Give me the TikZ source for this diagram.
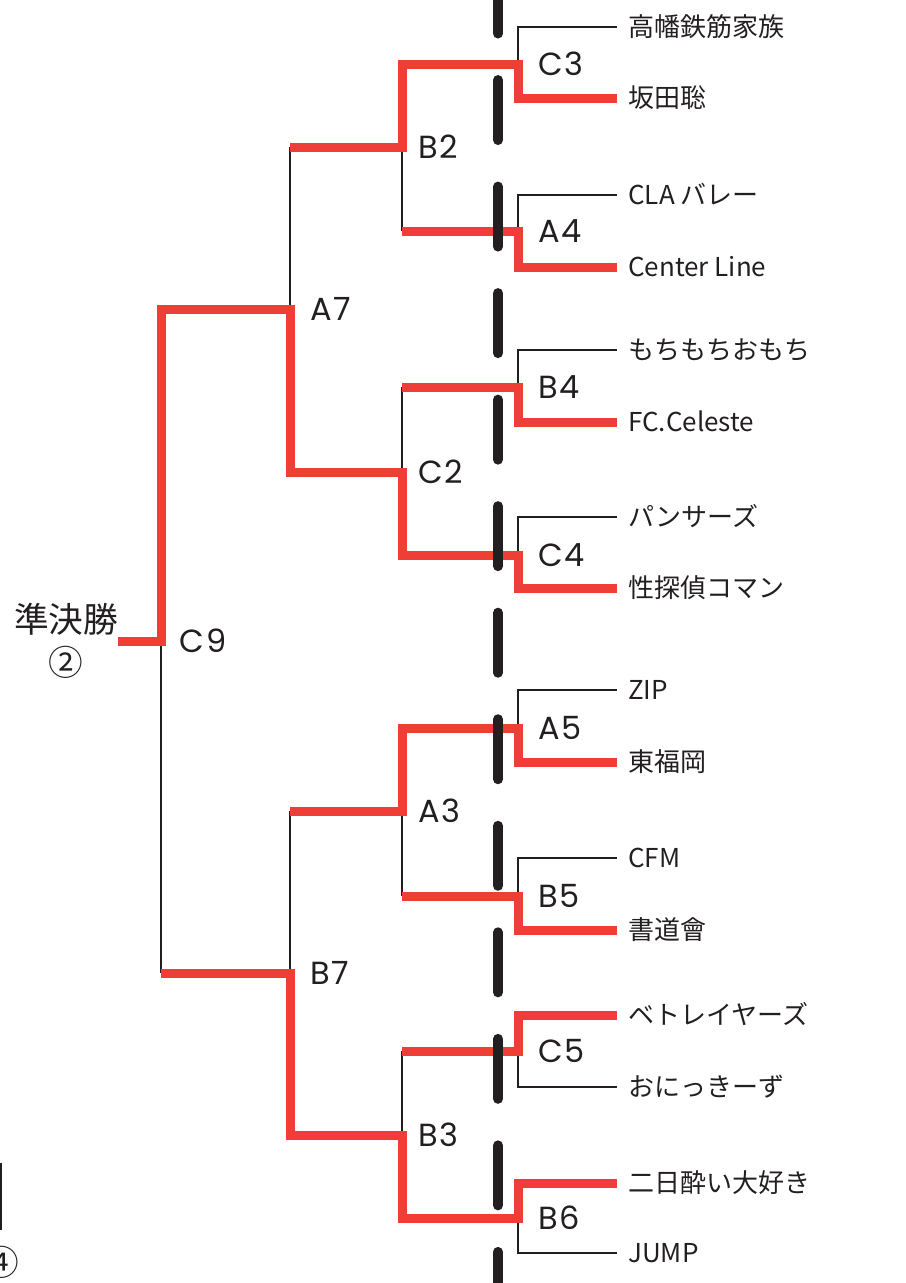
\documentclass[tikz,border=0pt]{standalone}
\usepackage{fontspec}
\setmainfont{Noto Sans CJK JP}
\newfontfamily\matchfam{Poppins}[LetterSpace=5.0]
\usetikzlibrary{positioning}

\definecolor{winred}{HTML}{EF3E36}
\definecolor{inkblack}{HTML}{231F20}

\newcommand\teamfont{\fontsize{19.5pt}{23pt}\selectfont}
\newcommand\semifont{\fontsize{26pt}{32pt}\selectfont}
\newcommand\matchfont{\matchfam\fontsize{24pt}{28pt}\selectfont}

\begin{document}
\begin{tikzpicture}[x=0.75pt, y=-0.75pt,
    win/.style={draw=winred, line width=6.75pt},
    lose/.style={draw=inkblack, line width=1.5pt},
    dashline/.style={draw=inkblack, line width=7.5pt, line cap=round, dash pattern=on 45pt off 34.9pt},
    team/.style={anchor=west, inner xsep=8.25pt, inner ysep=0pt, text height=14.8pt, text depth=0pt, font=\teamfont, text=inkblack},
    mlabel/.style={inner sep=0pt, font=\matchfont, text=inkblack}]

    \useasboundingbox (0,0) rectangle (906,1283);

    % 队伍
    \node[team] (t1) at (617,27) {高幡鉄筋家族};
    \node[team] (t2) at (617,98) {坂田聡};
    \node[team] (t3) at (617,195) {CLA バレー};
    \node[team] (t4) at (617,267) {Center Line};
    \node[team] (t5) at (617,350) {もちもちおもち};
    \node[team] (t6) at (617,422) {FC.Celeste};
    \node[team] (t7) at (617,517) {パンサーズ};
    \node[team] (t8) at (617,588) {性探偵コマン};
    \node[team] (t9) at (617,690) {ZIP};
    \node[team] (t10) at (617,762) {東福岡};
    \node[team] (t11) at (617,858) {CFM};
    \node[team] (t12) at (617,930) {書道會};
    \node[team] (t13) at (617,1015) {ベトレイヤーズ};
    \node[team] (t14) at (617,1087) {おにっきーず};
    \node[team] (t15) at (617,1183) {二日酔い大好き};
    \node[team] (t16) at (617,1253) {JUMP};

    % 比赛结点
    \coordinate (mC3) at (518,64);
    \coordinate (mA4) at (518,231);
    \coordinate (mB4) at (518,387);
    \coordinate (mC4) at (518,555);
    \coordinate (mA5) at (518,728);
    \coordinate (mB5) at (518,896);
    \coordinate (mC5) at (518,1051);
    \coordinate (mB6) at (518,1218);
    \coordinate (mB2) at (402,147);
    \coordinate (mC2) at (402,472);
    \coordinate (mA3) at (402,811);
    \coordinate (mB3) at (402,1135);
    \coordinate (mA7) at (290,309);
    \coordinate (mB7) at (290,973);
    \coordinate (mC9) at (161,641);

    % 比赛编号
    \node[mlabel, right=15pt of mC3] {C3};
    \node[mlabel, right=15pt of mA4] {A4};
    \node[mlabel, right=15pt of mB4] {B4};
    \node[mlabel, right=15pt of mC4] {C4};
    \node[mlabel, right=15pt of mA5] {A5};
    \node[mlabel, right=15pt of mB5] {B5};
    \node[mlabel, right=15pt of mC5] {C5};
    \node[mlabel, right=15pt of mB6] {B6};
    \node[mlabel, right=12pt of mB2] {B2};
    \node[mlabel, right=12pt of mC2] {C2};
    \node[mlabel, right=12pt of mA3] {A3};
    \node[mlabel, right=12pt of mB3] {B3};
    \node[mlabel, right=15pt of mA7] {A7};
    \node[mlabel, right=15pt of mB7] {B7};
    \node[mlabel, right=14pt of mC9] {C9};

    % 准决胜
    \node[inner sep=0pt, align=center, font=\semifont, text=inkblack] (semi) at (66,641) {準決勝\\②};

    % 败者 (黑线)
    \draw[lose] (t1.west) -| (mC3);
    \draw[lose] (t3.west) -| (mA4);
    \draw[lose] (t5.west) -| (mB4);
    \draw[lose] (t7.west) -| (mC4);
    \draw[lose] (t9.west) -| (mA5);
    \draw[lose] (t11.west) -| (mB5);
    \draw[lose] (t14.west) -| (mC5);
    \draw[lose] (t16.west) -| (mB6);
    \draw[lose] (mB2) -- (mB2 |- mA4);
    \draw[lose] (mC2) -- (mC2 |- mB4);
    \draw[lose] (mA3) -- (mA3 |- mB5);
    \draw[lose] (mB3) -- (mB3 |- mC5);
    \draw[lose] (mA7) -- (mA7 |- mB2);
    \draw[lose] (mB7) -- (mB7 |- mA3);
    \draw[lose] (mC9) -- (mC9 |- mB7);

    % 胜者 (红线)
    \draw[win] (t2.west) -| (mC3) -| (mB2) -- (mB2 -| mA7);
    \draw[win] (t4.west) -| (mA4) -- (mA4 -| mB2);
    \draw[win] (t6.west) -| (mB4) -- (mB4 -| mC2);
    \draw[win] (t8.west) -| (mC4) -| (mC2) -| (mA7) -| (mC9) -- (semi.east);
    \draw[win] (t10.west) -| (mA5) -| (mA3) -- (mA3 -| mB7);
    \draw[win] (t12.west) -| (mB5) -- (mB5 -| mA3);
    \draw[win] (t13.west) -| (mC5) -- (mC5 -| mB3);
    \draw[win] (t15.west) -| (mB6) -| (mB3) -| (mB7) -- (mB7 -| mC9);

    % 中间虚线
    \draw[dashline] (498,-26.5) -- (498,1320);

    % 左下角 (相邻的表)
    \draw[lose] (1,1163) -- (1,1230);
    \node[inner sep=0pt, font=\semifont, text=inkblack] at (2,1262) {④};

\end{tikzpicture}
\end{document}
